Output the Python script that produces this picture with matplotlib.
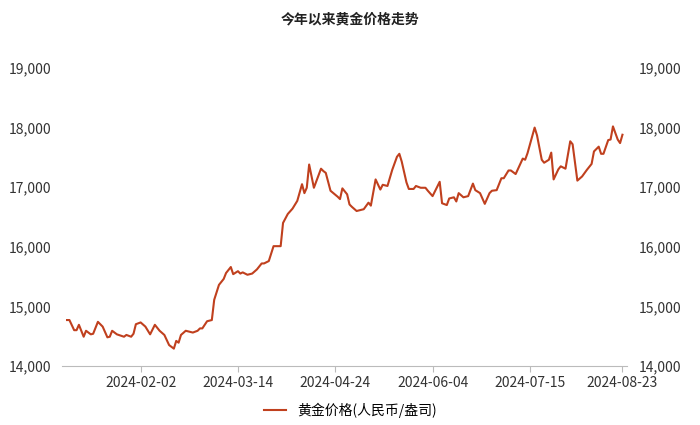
import matplotlib
matplotlib.use("Agg")
import matplotlib.pyplot as plt
import matplotlib.dates as mdates
import pandas as pd

plt.rcParams['font.family'] = ['Noto Sans CJK SC', 'DejaVu Sans']

start = "2024-01-02"
day_offsets = [0,1,3,4,5,7,8,10,11,13,15,17,18,19,21,24,25,27,28,29,31,33,35,37,39,41,43,45,46,47,48,50,53,55,56,57,59,61,62,64,66,67,69,70,72,73,74,76,78,80,82,83,85,87,90,91,93,95,97,99,100,101,102,104,107,108,109,111,114,115,116,118,119,120,122,124,125,127,128,130,132,133,135,137,139,140,141,143,144,146,147,149,151,152,154,157,158,160,161,163,164,165,167,169,171,172,174,176,178,179,181,183,184,186,187,189,192,193,194,197,198,200,201,203,204,205,207,208,210,212,213,215,217,219,221,222,224,225,226,228,229,230,232,233,234]
prices = [14770,14770,14600,14600,14690,14490,14590,14530,14540,14740,14660,14480,14490,14590,14530,14490,14520,14490,14540,14700,14730,14660,14530,14690,14590,14520,14350,14290,14420,14390,14520,14590,14560,14590,14630,14630,14750,14770,15110,15360,15460,15560,15660,15540,15590,15550,15570,15530,15550,15620,15720,15720,15760,16010,16010,16400,16550,16640,16770,17050,16900,16990,17380,16990,17310,17270,17240,16940,16840,16800,16980,16880,16710,16670,16600,16620,16630,16740,16690,17130,16960,17040,17020,17290,17510,17560,17430,17080,16970,16970,17020,16990,16990,16940,16850,17090,16730,16700,16810,16830,16760,16900,16830,16850,17060,16950,16900,16720,16900,16940,16950,17150,17150,17280,17280,17220,17480,17460,17570,18000,17870,17460,17410,17460,17580,17130,17300,17350,17310,17770,17720,17110,17180,17290,17390,17600,17680,17560,17560,17790,17800,18020,17800,17740,17880]
tick_dates = ["2024-02-02","2024-03-14","2024-04-24","2024-06-04","2024-07-15","2024-08-23"]
yticks = [14000,15000,16000,17000,18000,19000]

dates = pd.to_datetime(start) + pd.to_timedelta(day_offsets, unit="D")
color = "#C0401E"

fig = plt.figure(figsize=(7, 4.25), dpi=100)
ax = fig.add_axes([0.089, 0.139, 0.807, 0.701])
ax.plot(dates, prices, color=color, lw=1.5, label="黄金价格(人民币/盎司)")
ax.set_ylim(14000, 19000)
ax.set_yticks(yticks)
ax.set_yticklabels([f"{v:,}" for v in yticks])
ax.set_xlim(pd.to_datetime(start) - pd.Timedelta(days=2), pd.to_datetime("2024-08-23") + pd.Timedelta(days=2))
ax.set_xticks(pd.to_datetime(tick_dates))
ax.xaxis.set_major_formatter(mdates.DateFormatter("%Y-%m-%d"))
for s in ["top", "left", "right"]:
    ax.spines[s].set_visible(False)
ax.spines["bottom"].set_color("#BBBBBB")
ax.tick_params(axis="y", length=0, labelsize=10, colors="#333333", pad=8)
ax.tick_params(axis="x", length=4, color="#BBBBBB", labelsize=10, colors="#333333")

ax2 = ax.twinx()
ax2.set_ylim(14000, 19000)
ax2.set_yticks(yticks)
ax2.set_yticklabels([f"{v:,}" for v in yticks])
for s in ["top", "left", "right", "bottom"]:
    ax2.spines[s].set_visible(False)
ax2.tick_params(axis="y", length=0, labelsize=10, colors="#333333", pad=8)

fig.text(0.5, 0.955, "今年以来黄金价格走势", ha="center", va="center", fontsize=10, fontweight="bold", color="#222222")
fig.legend(loc="center", bbox_to_anchor=(0.5, 0.035), frameon=False, fontsize=10, handlelength=1.6)

fig.savefig("out.png", dpi=100)
